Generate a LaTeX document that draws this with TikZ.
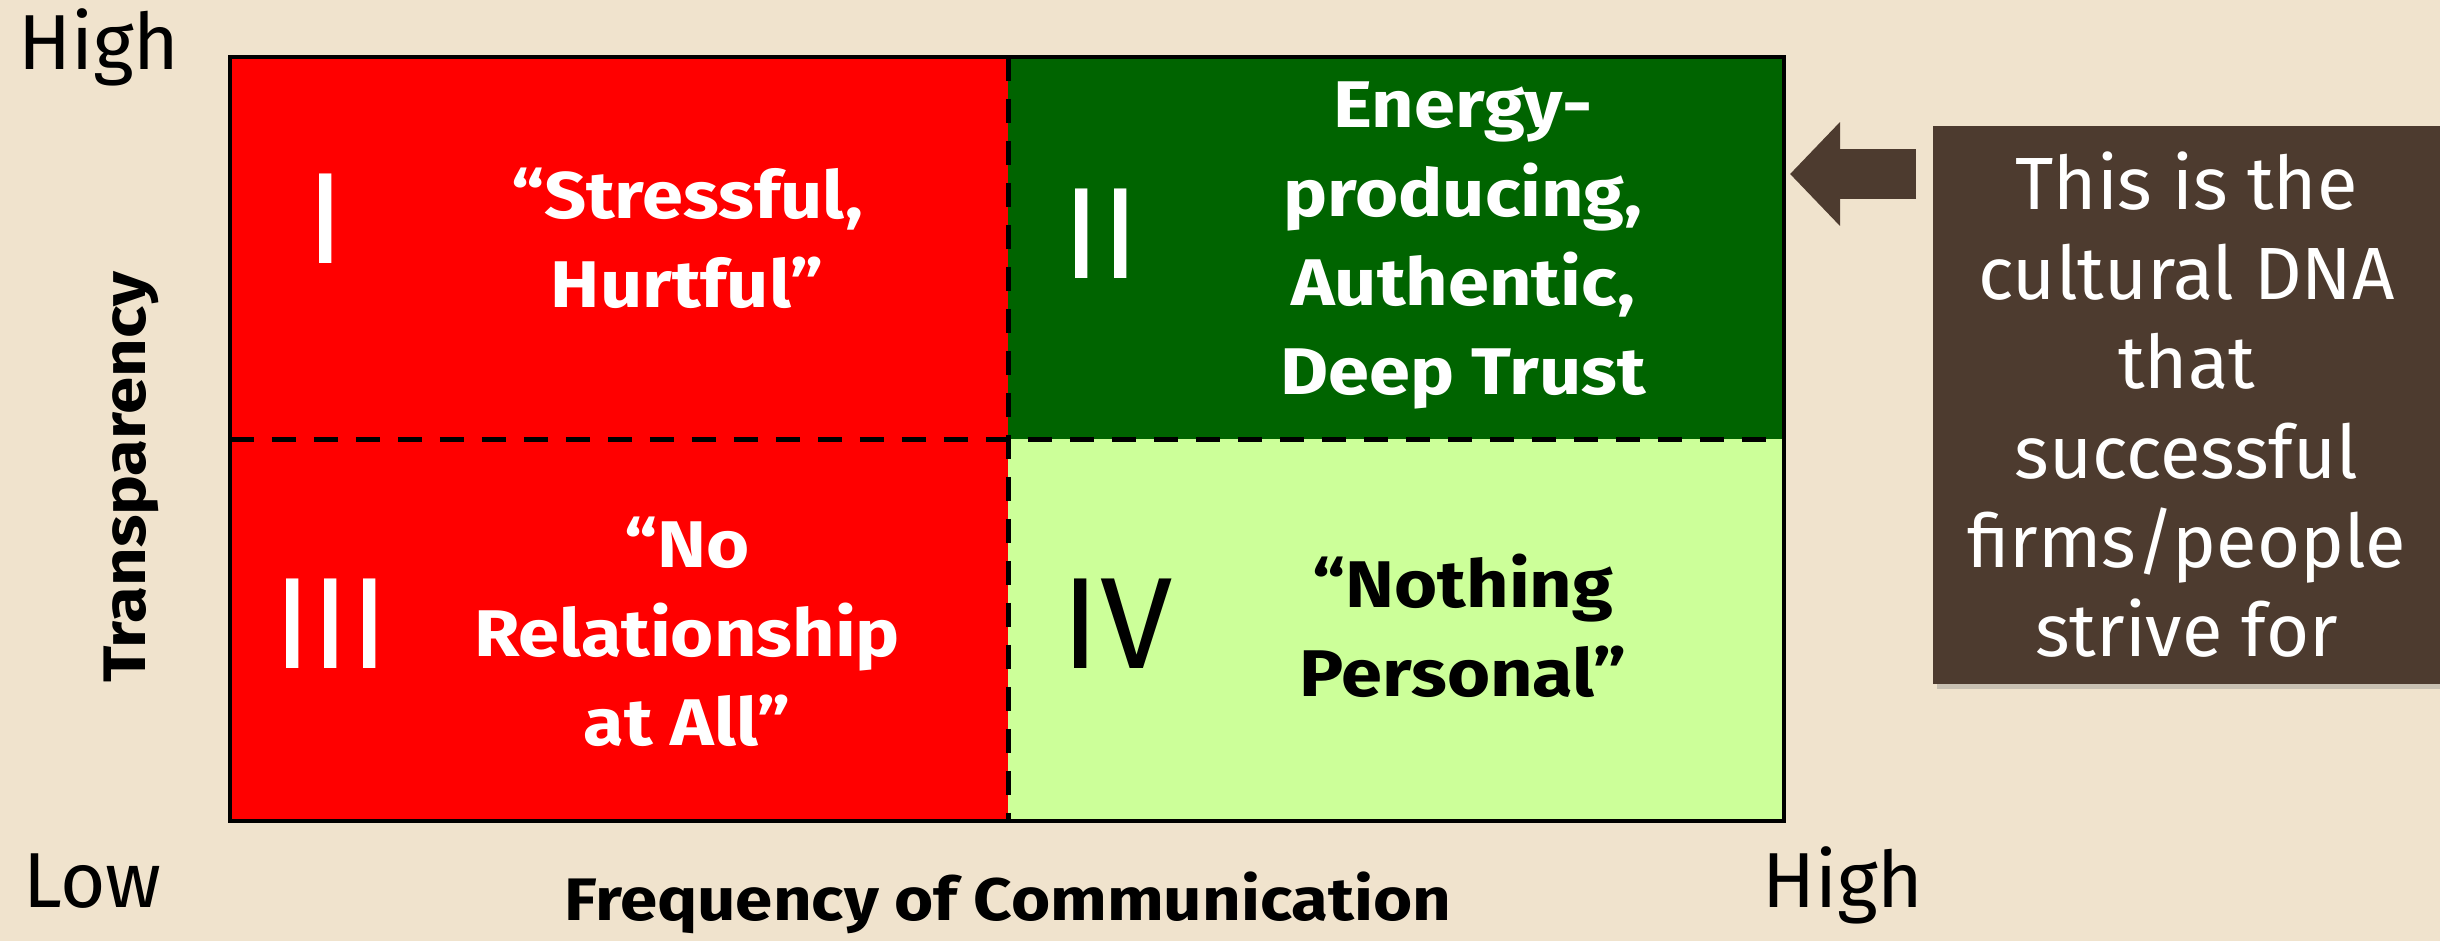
\documentclass[tikz,border=0pt]{standalone}
\usepackage{fontspec}
\setmainfont{Fira Sans}
\newfontfamily\widefont[FakeStretch=1.12]{Fira Sans}
\usetikzlibrary{arrows.meta,shadows}
\definecolor{bg}{HTML}{F0E3CD}
\definecolor{qred}{HTML}{FF0000}
\definecolor{qdark}{HTML}{006400}
\definecolor{qlight}{HTML}{CCFF99}
\definecolor{dnabrown}{HTML}{4D3B2F}
\begin{document}
\begin{tikzpicture}[x=1pt,y=-1pt,
  quad/.style={draw=none,inner sep=0pt,minimum height=382pt},
  qtext/.style={align=center,inner sep=0pt,font=\widefont\fontsize{66}{89}\selectfont\bfseries},
  numeral/.style={inner sep=0pt,font=\fontsize{130}{130}\selectfont},
  axislabel/.style={inner sep=0pt,font=\widefont\fontsize{60}{70}\selectfont\bfseries},
  endlabel/.style={inner sep=0pt,anchor=base west,font=\fontsize{78}{90}\selectfont},
  divider/.style={line width=5pt,dash pattern=on 24pt off 18pt},
  blockarrow/.style={draw=dnabrown,line width=50pt,-{Triangle[length=50pt,width=101pt]}},
]
\fill[bg] (0,0) rectangle (2440,941);
\useasboundingbox (0,0) rectangle (2440,941);

% quadrants
\node[quad,fill=qred,minimum width=778pt] (q1) at (619,248) {};
\node[quad,fill=qdark,minimum width=776pt] (q2) at (1396,248) {};
\node[quad,fill=qred,minimum width=778pt] (q3) at (619,630) {};
\node[quad,fill=qlight,minimum width=776pt] (q4) at (1396,630) {};
\draw[divider] (q1.north east) -- (q3.south east);
\draw[divider] (q1.south west) -- (q2.south east);
\draw[line width=4pt] (q1.north west) rectangle (q4.south east);

% numerals
\node[numeral,text=white] (n1) at (326,219) {I};
\node[numeral,text=white] (n2) at (1101,234) {II};
\node[numeral,text=white] (n3) at (331,624) {III};
\node[numeral,text=black] (n4) at (1117,624) {IV};

% quadrant texts
\node[qtext,text=white] (t1) at (687,238) {“Stressful,\\Hurtful”};
\node[qtext,text=white] (t2) at (1463,245) {Energy-\\producing,\\Authentic,\\Deep Trust};
\node[qtext,text=white] (t3) at (687,632) {“No\\Relationship\\at All”};
\node[qtext,text=black] (t4) at (1463,626) {“Nothing\\Personal”};

% axis labels
\node[axislabel,anchor=base] (xlabel) at (1008,920) {Frequency of Communication};
\node[axislabel,rotate=90,anchor=base] (ylabel) at (145,477) {Transparency};
\node[endlabel] (yhigh) at (18,70) {High};
\node[endlabel] (xlow) at (23,907) {Low};
\node[endlabel] (xhigh) at (1762,907) {High};

% callout
\node[fill=dnabrown,text=white,inner sep=0pt,minimum width=507pt,minimum height=558pt,
  align=center,font=\fontsize{74}{89.4}\selectfont,
  drop shadow={opacity=0.35,shadow xshift=4pt,shadow yshift=-5pt}]
  (dna) at (2186.5,405) {This is the\\cultural DNA\\that\\successful\\firms/people\\strive for};
\coordinate (arrowtail) at (1916,174);
\coordinate (arrowtip) at (1790,174);
\draw[blockarrow] (arrowtail) -- (arrowtip);
\end{tikzpicture}
\end{document}
